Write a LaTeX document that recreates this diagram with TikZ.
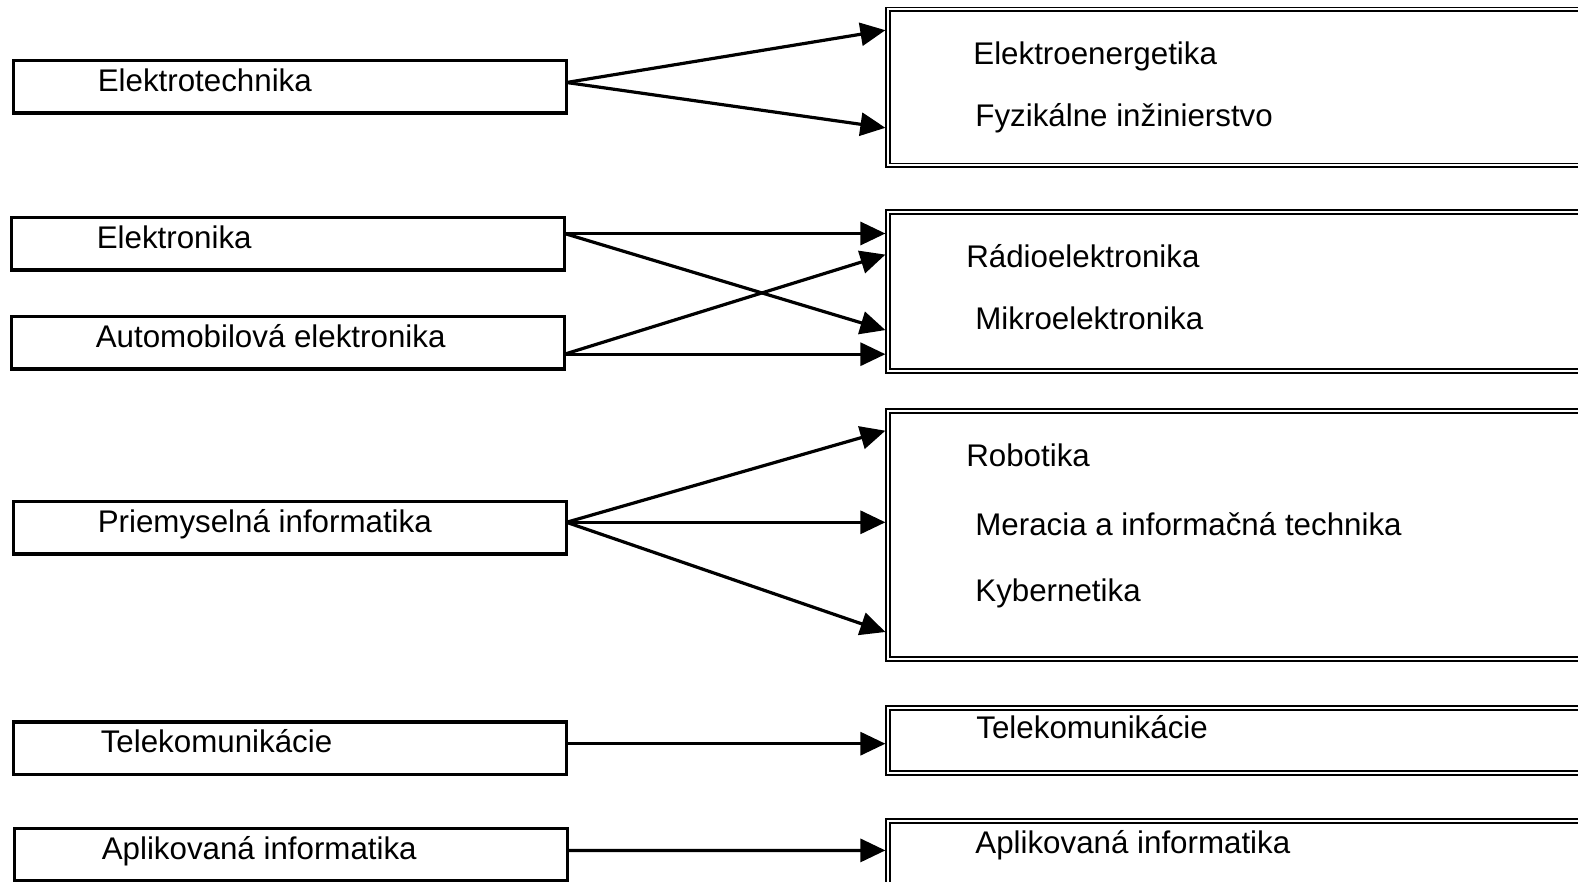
\documentclass[tikz,border=0pt]{standalone}
\usepackage{fontspec}
\setmainfont{Liberation Sans}
\usetikzlibrary{arrows.meta,calc}
\tikzset{
 lbox/.style={draw, line width=3.5pt, rectangle, minimum width=553pt, minimum height=52.5pt, inner sep=0pt, outer sep=0pt, anchor=north west},
 rbox/.style={draw, line width=1.6pt, double, double distance=2pt, rectangle, minimum width=720pt, inner sep=0pt, outer sep=0pt, anchor=north west},
 lbl/.style={anchor=base west, inner sep=0pt, font=\fontsize{31.3}{37}\selectfont},
 conn/.style={line width=3.2pt, -{Triangle[length=25pt,width=23pt]}},
}
\begin{document}
\begin{tikzpicture}[x=1pt,y=-1pt]
\useasboundingbox (0,0) rectangle (1578,882);
\clip (0,0) rectangle (1578,882);
% left boxes
\node[lbox] (l1) at (13.5,60.5) {};
\node[lbox] (l2) at (11.5,217.5) {};
\node[lbox] (l3) at (11.5,316.5) {};
\node[lbox] (l4) at (13.5,501.5) {};
\node[lbox] (l5) at (13.5,722) {};
\node[lbox] (l6) at (14.5,828.5) {};
\node[lbl] (t1) at (97.6,91.5) {Elektrotechnika};
\node[lbl] (t2) at (96.6,248.5) {Elektronika};
\node[lbl] (t3) at (95.6,347) {Automobilová elektronika};
\node[lbl] (t4) at (97.6,532.3) {Priemyselná informatika};
\node[lbl] (t5) at (100.6,752.7) {Telekomunikácie};
\node[lbl] (t6) at (101.6,859.4) {Aplikovaná informatika};
% right boxes
\node[rbox, minimum height=156pt] (r1) at (888,9.5) {};
\node[rbox, minimum height=159pt] (r2) at (888,212) {};
\node[rbox, minimum height=248pt] (r3) at (888,411) {};
\node[rbox, minimum height=65pt] (r4) at (888,708) {};
\node[rbox, minimum height=100pt] (r5) at (888,821) {};
\node[lbl] (s1) at (973.2,64.3) {Elektroenergetika};
\node[lbl] (s2) at (975.2,126.7) {Fyzikálne inžinierstvo};
\node[lbl] (s3) at (966.1,267.6) {Rádioelektronika};
\node[lbl] (s4) at (975.2,329) {Mikroelektronika};
\node[lbl] (s5) at (966.1,466.9) {Robotika};
\node[lbl] (s6) at (975.2,535.3) {Meracia a informačná technika};
\node[lbl] (s7) at (975.2,601.7) {Kybernetika};
\node[lbl] (s8) at (976.2,738.6) {Telekomunikácie};
\node[lbl] (s9) at (975.2,853.3) {Aplikovaná informatika};
% connectors
\draw[conn] ($(l1.north east)+(0,22)$) -- ($(r1.north west)+(-2.6,20.7)$);
\draw[conn] ($(l1.north east)+(0,22)$) -- ($(r1.north west)+(-2.6,118.3)$);
\draw[conn] ($(l2.north east)+(0,16)$) -- ($(r2.north west)+(-2.6,21.5)$);
\draw[conn] ($(l2.north east)+(0,16)$) -- ($(r2.north west)+(-2.6,118.1)$);
\draw[conn] ($(l3.north east)+(0,37.7)$) -- ($(r2.north west)+(-2.6,42.6)$);
\draw[conn] ($(l3.north east)+(0,37.7)$) -- ($(r2.north west)+(-2.6,142.2)$);
\draw[conn] ($(l4.north east)+(0,20.8)$) -- ($(r3.north west)+(-2.6,19.7)$);
\draw[conn] ($(l4.north east)+(0,20.8)$) -- ($(r3.north west)+(-2.6,111.3)$);
\draw[conn] ($(l4.north east)+(0,20.8)$) -- ($(r3.north west)+(-2.6,221)$);
\draw[conn] ($(l5.north east)+(0,21.7)$) -- ($(r4.north west)+(-2.6,35.7)$);
\draw[conn] ($(l6.north east)+(0,22)$) -- ($(r5.north west)+(-2.6,29.4)$);
\end{tikzpicture}
\end{document}
